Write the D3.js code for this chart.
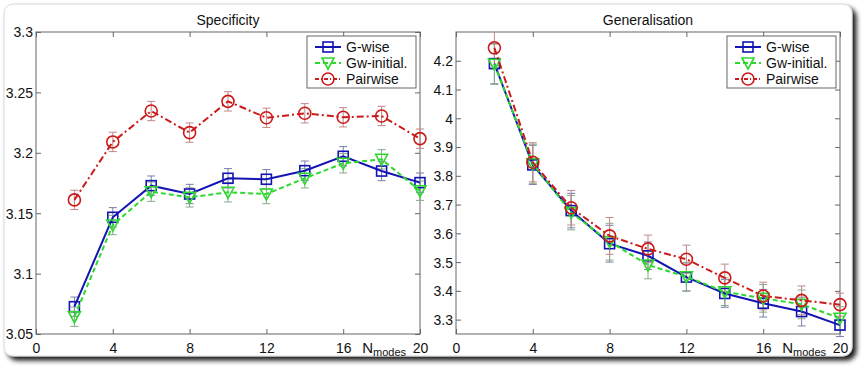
<!DOCTYPE html>
<html><head><meta charset="utf-8">
<script src="https://cdn.jsdelivr.net/npm/d3@7"></script>
<style>body{margin:0;background:#fff}svg{display:block;font-family:"Liberation Sans",Arial,sans-serif}</style>
</head><body><svg id="c" width="866" height="375"></svg>
<script>
const modes = [2,4,6,8,10,12,14,16,18,20];
const xTicks = [0,4,8,12,16,20];
const seriesNames = ["G-wise","Gw-initial.","Pairwise"];
// Specificity
const specGwise   = [3.0726,3.1466,3.1728,3.1659,3.1789,3.1781,3.1852,3.1971,3.1849,3.1753];
const specGwInit  = [3.0643,3.1402,3.1678,3.1631,3.1673,3.1659,3.1789,3.1913,3.1946,3.1686];
const specPair    = [3.161,3.209,3.2346,3.2167,3.2426,3.229,3.2327,3.2294,3.2305,3.2117];
const specErr     = [0.008,0.008,0.008,0.008,0.008,0.008,0.008,0.008,0.008,0.008];
const specTicks   = [3.05,3.1,3.15,3.2,3.25,3.3];
// Generalisation
const genGwise    = [4.19,3.838,3.679,3.564,3.522,3.448,3.391,3.357,3.328,3.281];
const genGwInit   = [4.188,3.842,3.672,3.571,3.49,3.449,3.397,3.374,3.353,3.305];
const genPair     = [4.245,3.847,3.689,3.591,3.546,3.51,3.445,3.382,3.367,3.352];
const genErr      = [0.07,0.068,0.06,0.064,0.048,0.049,0.048,0.048,0.05,0.04];
const genTicks    = [3.3,3.4,3.5,3.6,3.7,3.8,3.9,4,4.1,4.2];

const svg = d3.select("#c");
// frame with shadow
const defs = svg.append("defs");
const f = defs.append("filter").attr("id","sh").attr("x","-5%").attr("y","-5%").attr("width","115%").attr("height","120%");
f.append("feGaussianBlur").attr("in","SourceAlpha").attr("stdDeviation",2.5).attr("result","b");
f.append("feOffset").attr("in","b").attr("dx",4).attr("dy",4).attr("result","o");
f.append("feComponentTransfer").attr("in","o").attr("result","o2").append("feFuncA").attr("type","linear").attr("slope",0.9);
const m = f.append("feMerge"); m.append("feMergeNode").attr("in","o2"); m.append("feMergeNode").attr("in","SourceGraphic");
svg.append("rect").attr("x",4).attr("y",4).attr("width",848).attr("height",352).attr("rx",9)
  .attr("fill","#fff").attr("stroke","#d8d8d8").attr("stroke-width",1).attr("filter","url(#sh)");

const styles = [
  {color:"#1414b4", dash:null, marker:"square", err:"#7a7ea8"},
  {color:"#2fd82f", dash:"5,3", marker:"tri", err:"#8aa88a"},
  {color:"#cc1a1a", dash:"7,3,2,3", marker:"circle", err:"#c08888"}
];

function panel(opts){
  const {left,right,top,bottom,yDomain,yTicks,title,series,err} = opts;
  const x = d3.scaleLinear().domain([0,20]).range([left,right]);
  const y = d3.scaleLinear().domain(yDomain).range([bottom,top]);
  const g = svg.append("g");
  g.append("rect").attr("x",left).attr("y",top).attr("width",right-left).attr("height",bottom-top)
    .attr("fill","#fff").attr("stroke","#666").attr("stroke-width",1);
  const ax = g.append("g").attr("transform",`translate(0,${bottom})`)
    .call(d3.axisBottom(x).tickValues(xTicks).tickSize(-5).tickPadding(9).tickFormat(d3.format("d")));
  const axT = g.append("g").attr("transform",`translate(0,${top})`)
    .call(d3.axisTop(x).tickValues(xTicks).tickSize(-5).tickFormat(""));
  const ay = g.append("g").attr("transform",`translate(${left},0)`)
    .call(d3.axisLeft(y).tickValues(yTicks).tickSize(-5).tickPadding(3).tickFormat(d=>String(+d.toFixed(2))));
  const ayR = g.append("g").attr("transform",`translate(${right},0)`)
    .call(d3.axisRight(y).tickValues(yTicks).tickSize(-5).tickFormat(""));
  [ax,axT,ay,ayR].forEach(a=>{a.select(".domain").remove(); a.selectAll("line").attr("stroke","#666");
    a.selectAll("text").attr("fill","#111").style("font-size","14px").style("font-family","Liberation Sans, Arial, sans-serif");});
  ay.selectAll("text").attr("dy","0.35em");
  g.append("text").attr("x",(left+right)/2).attr("y",25).attr("text-anchor","middle")
    .style("font-size","14px").attr("fill","#111").text(title);
  const xl = g.append("text").attr("x",x(16)+19).attr("y",bottom+19).attr("text-anchor","start").style("font-size","15px").attr("fill","#111");
  xl.append("tspan").text("N");
  xl.append("tspan").attr("dy",3).style("font-size","11px").text("modes");

  const line = d3.line().x((d,i)=>x(modes[i])).y(d=>y(d));
  series.forEach((s,k)=>{
    const st = styles[k];
    const eg = g.append("g");
    s.forEach((v,i)=>{
      const e = err[i], cx = x(modes[i]);
      const y1 = Math.max(y(v+e),top), y2 = y(v-e);
      eg.append("line").attr("x1",cx).attr("x2",cx).attr("y1",y1).attr("y2",y2).attr("stroke",st.err).attr("stroke-width",1);
      if (y(v+e)>=top) eg.append("line").attr("x1",cx-4).attr("x2",cx+4).attr("y1",y1).attr("y2",y1).attr("stroke",st.err);
      eg.append("line").attr("x1",cx-4).attr("x2",cx+4).attr("y1",y2).attr("y2",y2).attr("stroke",st.err);
    });
  });
  series.forEach((s,k)=>{
    const st = styles[k];
    g.append("path").datum(s).attr("d",line).attr("fill","none").attr("stroke",st.color)
      .attr("stroke-width",2).attr("stroke-dasharray",st.dash);
    s.forEach((v,i)=>drawMarker(g,st,x(modes[i]),y(v)));
  });
  // legend
  const lx = right-113, ly = top+4;
  g.append("rect").attr("x",lx).attr("y",ly).attr("width",109).attr("height",52).attr("fill","#fff").attr("stroke","#666");
  seriesNames.forEach((n,k)=>{
    const st = styles[k], yy = ly+11+k*16;
    g.append("line").attr("x1",lx+8).attr("x2",lx+34).attr("y1",yy).attr("y2",yy).attr("stroke",st.color)
      .attr("stroke-width",2).attr("stroke-dasharray",k===1?"5,3":(k===2?"4,2,1,2":null));
    drawMarker(g,st,lx+21,yy);
    g.append("text").attr("x",lx+39).attr("y",yy).attr("dy","0.36em").style("font-size","14px").attr("fill","#111").text(n);
  });
}
function drawMarker(g,st,cx,cy){
  if(st.marker==="square") g.append("rect").attr("x",cx-5).attr("y",cy-5).attr("width",10).attr("height",10)
    .attr("fill","none").attr("stroke",st.color).attr("stroke-width",1.6);
  else if(st.marker==="circle") g.append("circle").attr("cx",cx).attr("cy",cy).attr("r",6)
    .attr("fill","none").attr("stroke",st.color).attr("stroke-width",1.6);
  else g.append("path").attr("d",`M${cx-6},${cy-5}L${cx+6},${cy-5}L${cx},${cy+6}Z`)
    .attr("fill","none").attr("stroke",st.color).attr("stroke-width",1.6);
}
panel({left:36,right:420,top:32,bottom:334,yDomain:[3.05,3.3],yTicks:specTicks,title:"Specificity",
  series:[specGwise,specGwInit,specPair],err:specErr});
panel({left:456,right:840,top:32,bottom:334,yDomain:[3.25,4.3],yTicks:genTicks,title:"Generalisation",
  series:[genGwise,genGwInit,genPair],err:genErr});
</script></body></html>
